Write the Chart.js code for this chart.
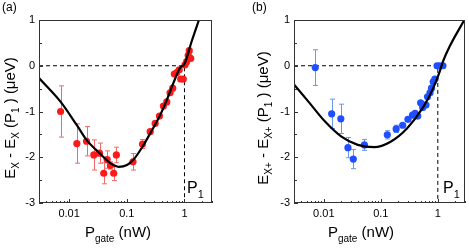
<!DOCTYPE html>
<html>
<head>
<meta charset="UTF-8">
<script src="https://cdn.jsdelivr.net/npm/chart.js"></script>
<style>
    body { margin: 0; background: #fff; }
    canvas { position: absolute; top: 0; }
</style>
</head>
<body>
<canvas id="chartA" width="234" height="249" style="left:0px"></canvas>
<canvas id="chartB" width="235" height="249" style="left:234px"></canvas>
<script>
// axes
const xTickValues = [0.01, 0.1, 1];
const yTickValues = [-3, -2, -1, 0, 1];
const xRange = [0.003, 3];
const yRange = [-3, 1];
const p1Power = 1;     // P1 (nW)
const zeroShift = 0;

// panel (a): X
const aPower = [0.0071, 0.0136, 0.020, 0.0268, 0.0336, 0.0398, 0.0456, 0.052, 0.0592, 0.0659,
    0.128, 0.187, 0.254, 0.31, 0.368, 0.431, 0.493, 0.562, 0.625, 0.667,
    0.734, 0.81, 0.86, 0.953, 1.02, 1.09, 1.16, 1.21, 1.28];
const aShift = [-1.0, -1.70, -1.65, -1.95, -1.91, -2.35, -2.05, -2.18, -2.35, -1.95,
    -2.10, -1.71, -1.44, -1.26, -1.10, -0.88, -0.79, -0.59, -0.49, -0.18,
    -0.15, -0.09, -0.29, -0.29, 0.02, 0.09, 0.23, 0.33, 0.16];
const aErr = [0.56, 0.43, 0.32, 0.33, 0.22, 0.23, 0.19, 0.08, 0.16, 0.17,
    0.18, 0.10, 0, 0, 0, 0, 0, 0, 0, 0,
    0, 0, 0, 0, 0, 0, 0, 0, 0];
const aFitPower = [0.003, 0.00713, 0.0136, 0.020, 0.0336, 0.052, 0.0723, 0.1007, 0.131, 0.187,
    0.254, 0.368, 0.493, 0.641, 0.836, 1.0, 1.33, 1.78];
const aFitShift = [-0.27, -0.79, -1.30, -1.62, -1.91, -2.13, -2.21, -2.17, -2.05, -1.77,
    -1.48, -1.11, -0.75, -0.38, -0.05, 0.04, 0.53, 1.0];

// panel (b): X+
const bPower = [0.00708, 0.01374, 0.0199, 0.0265, 0.0329, 0.0515, 0.13, 0.186, 0.242, 0.299,
    0.36, 0.40, 0.445, 0.50, 0.543, 0.58, 0.62, 0.66, 0.73, 0.776,
    0.83, 0.89, 0.97, 1.08, 1.23];
const bShift = [-0.04, -1.05, -1.16, -1.79, -2.04, -1.73, -1.51, -1.38, -1.30, -1.17,
    -1.08, -1.04, -1.10, -0.81, -0.91, -0.86, -0.86, -0.68, -0.59, -0.49,
    -0.35, -0.29, 0.0, 0.0, 0.0];
const bErr = [0.39, 0.32, 0.32, 0.22, 0.21, 0.12, 0.09, 0.08, 0, 0,
    0, 0, 0, 0, 0, 0, 0, 0, 0, 0,
    0, 0, 0, 0, 0];
const bFitPower = [0.003, 0.00542, 0.01052, 0.0204, 0.0395, 0.0766, 0.1486, 0.2875, 0.558, 0.83,
    1.08, 1.23, 1.61, 2.92];
const bFitShift = [-0.41, -0.79, -1.22, -1.55, -1.73, -1.78, -1.66, -1.37, -0.90, -0.49,
    -0.13, 0.09, 0.42, 1.0];

Chart.defaults.font.family = "Arial, 'Liberation Sans', sans-serif";
Chart.defaults.font.size = 11;
Chart.defaults.color = '#000';

function pts(xs, ys) {
    return xs.map((x, i) => ({ x: x, y: ys[i] }));
}

// text with subscripts: parts = [[text, isSub], ...]
function richWidth(ctx, parts, big, small) {
    let w = 0;
    parts.forEach(p => {
        ctx.font = (p[1] ? small : big) + "px Arial, 'Liberation Sans', sans-serif";
        w += ctx.measureText(p[0]).width;
    });
    return w;
}
function drawRich(ctx, parts, x, y, big, small, subDy) {
    let cx = x;
    parts.forEach(p => {
        ctx.font = (p[1] ? small : big) + "px Arial, 'Liberation Sans', sans-serif";
        ctx.fillText(p[0], cx, y + (p[1] ? subDy : 0));
        cx += ctx.measureText(p[0]).width;
    });
}

const deco = {
    id: 'deco',
    beforeDatasetsDraw(chart, args, o) {
        const ctx = chart.ctx, xs = chart.scales.x, ys = chart.scales.y;
        ctx.save();
        ctx.strokeStyle = o.errColor;
        ctx.lineWidth = 1;
        o.px.forEach((p, i) => {
            const e = o.err[i];
            if (!e) return;
            const x = Math.round(xs.getPixelForValue(p)) + 0.5;
            const y1 = ys.getPixelForValue(o.py[i] + e);
            const y2 = ys.getPixelForValue(o.py[i] - e);
            ctx.beginPath();
            ctx.moveTo(x, y1); ctx.lineTo(x, y2);
            ctx.moveTo(x - 2.5, y1); ctx.lineTo(x + 2.5, y1);
            ctx.moveTo(x - 2.5, y2); ctx.lineTo(x + 2.5, y2);
            ctx.stroke();
        });
        ctx.restore();
    },
    afterDraw(chart, args, o) {
        const ctx = chart.ctx, a = chart.chartArea;
        const xs = chart.scales.x, ys = chart.scales.y;
        ctx.save();
        // frame
        ctx.strokeStyle = '#333';
        ctx.lineWidth = 1;
        ctx.strokeRect(Math.round(a.left) + 0.5, Math.round(a.top) + 0.5,
            Math.round(a.right - a.left) - 1, Math.round(a.bottom - a.top) - 1);
        // inward ticks
        ctx.beginPath();
        for (let v = yRange[0]; v <= yRange[1]; v += 0.5) {
            const y = Math.round(ys.getPixelForValue(v)) + 0.5;
            ctx.moveTo(a.left, y);
            ctx.lineTo(a.left + (Number.isInteger(v) ? 4 : 3), y);
        }
        for (let k = -3; k <= 0; k++) {
            for (let m = 1; m <= 9; m++) {
                const v = m * Math.pow(10, k);
                if (v < xRange[0] || v > xRange[1]) continue;
                const x = Math.round(xs.getPixelForValue(v)) + 0.5;
                ctx.moveTo(x, a.bottom);
                ctx.lineTo(x, a.bottom - (m === 1 ? 4 : 2));
            }
        }
        ctx.stroke();

        ctx.fillStyle = '#000';
        ctx.textBaseline = 'alphabetic';
        // panel label
        ctx.font = "12px Arial, 'Liberation Sans', sans-serif";
        ctx.fillText(o.label, o.labelX, 11);
        // P1 marker
        drawRich(ctx, [['P', false], ['1', true]], o.p1X, 193, 16, 11, 5);
        // x title
        const xt = [['P', false], ['gate', true], [' (nW)', false]];
        drawRich(ctx, xt, o.xTitleX - richWidth(ctx, xt, 15, 10) / 2, 237, 15, 10, 5);
        // y title, rotated
        ctx.translate(o.yTitleX, 118);
        ctx.rotate(-Math.PI / 2);
        drawRich(ctx, o.yTitle, -richWidth(ctx, o.yTitle, 15, 10) / 2, 0, 15, 10, 4);
        ctx.restore();
    }
};

function makeChart(id, c) {
    return new Chart(document.getElementById(id), {
        type: 'scatter',
        data: {
            datasets: [{
                type: 'line',
                data: pts(c.fitX, c.fitY),
                borderColor: '#000',
                borderWidth: 2.2,
                pointRadius: 0,
                cubicInterpolationMode: 'monotone',
                order: 0
            }, {
                data: pts(c.px, c.py),
                backgroundColor: c.color,
                borderWidth: 0,
                pointRadius: 3.6,
                order: 1
            }, {
                type: 'line',
                data: [{ x: xRange[0], y: zeroShift }, { x: p1Power, y: zeroShift }, { x: p1Power, y: yRange[0] }],
                borderColor: '#000',
                borderWidth: 1,
                borderDash: [4, 3],
                pointRadius: 0,
                tension: 0,
                order: 2
            }]
        },
        options: {
            responsive: false,
            animation: false,
            events: [],
            layout: { padding: { left: 0, top: 20, right: c.padRight, bottom: 0 } },
            plugins: {
                legend: { display: false },
                tooltip: { enabled: false },
                deco: {
                    px: c.px, py: c.py, err: c.err, errColor: c.errColor,
                    label: c.label, labelX: c.labelX, p1X: c.p1X,
                    xTitleX: c.xTitleX, yTitleX: c.yTitleX, yTitle: c.yTitle
                }
            },
            scales: {
                x: {
                    type: 'logarithmic',
                    min: xRange[0], max: xRange[1],
                    grid: { display: false, drawTicks: false },
                    border: { display: false },
                    afterBuildTicks: s => { s.ticks = xTickValues.map(v => ({ value: v })); },
                    afterFit: s => { s.height = 46; },
                    ticks: { padding: 4, maxRotation: 0, callback: v => String(v) }
                },
                y: {
                    min: yRange[0], max: yRange[1],
                    grid: { display: false, drawTicks: false },
                    border: { display: false },
                    afterBuildTicks: s => { s.ticks = yTickValues.map(v => ({ value: v })); },
                    afterFit: s => { s.width = c.axisWidth; },
                    ticks: { padding: 4 }
                }
            }
        },
        plugins: [deco]
    });
}

makeChart('chartA', {
    px: aPower, py: aShift, err: aErr, fitX: aFitPower, fitY: aFitShift,
    color: '#ff1a1a', errColor: '#f06a6a',
    axisWidth: 39, padRight: 22, label: '(a)', labelX: 2, p1X: 187,
    xTitleX: 118, yTitleX: 15,
    yTitle: [['E', false], ['X', true], [' - E', false], ['X', true], [' (P', false], ['1', true], [' ) (\u03bceV)', false]]
});

makeChart('chartB', {
    px: bPower, py: bShift, err: bErr, fitX: bFitPower, fitY: bFitShift,
    color: '#1f4fff', errColor: '#6a96f0',
    axisWidth: 60, padRight: 2, label: '(b)', labelX: 18, p1X: 209,
    xTitleX: 127, yTitleX: 34,
    yTitle: [['E', false], ['X+', true], [' - E', false], ['X+', true], [' (P', false], ['1', true], [' ) (\u03bceV)', false]]
});
</script>
</body>
</html>
